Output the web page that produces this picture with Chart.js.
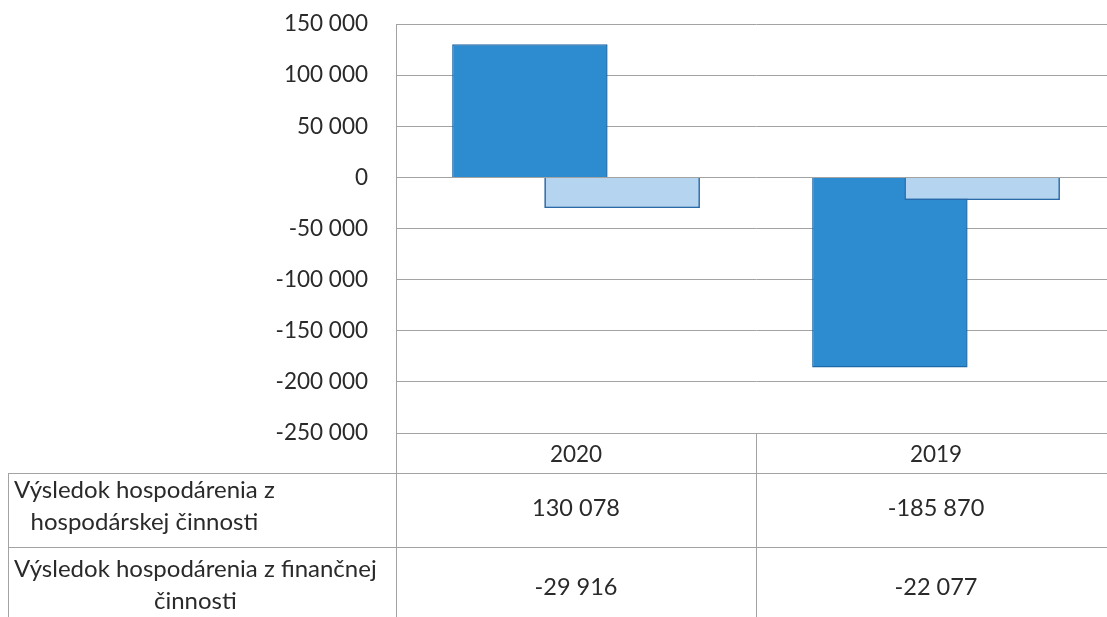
<!DOCTYPE html>
<html>
<head>
<meta charset="utf-8">
<script src="https://cdn.jsdelivr.net/npm/chart.js@4"></script>
<style>
  html, body { margin: 0; padding: 0; background: #fff; overflow: hidden; }
  #wrap { width: 1116px; height: 617px; }
</style>
</head>
<body>
<div id="wrap"><canvas id="c" width="1116" height="617"></canvas></div>
<script>
const categories = ['2020', '2019'];
const seriesNames = [
  ['Výsledok hospodárenia z', 'hospodárskej činnosti'],
  ['Výsledok hospodárenia z finančnej', 'činnosti']
];
const hospodarska = [130078, -185870];
const financna = [-29916, -22077];
const yMin = -250000, yMax = 150000, yStep = 50000;

const FONT = 'Lato, "Open Sans", sans-serif';
const TEXT = '#2a2a2a';
const GRID = '#a3a3a3';

function fmt(v) {
  const s = Math.abs(Math.round(v)).toString().replace(/\B(?=(\d{3})+(?!\d))/g, ' ');
  return (v < 0 ? '-' : '') + s;
}

const tablePlugin = {
  id: 'dataTable',
  afterDatasetsDraw(chart) {
    // light series drawn over the dark one where they overlap
    chart.getDatasetMeta(1).controller.draw();
  },
  afterDraw(chart) {
    const ctx = chart.ctx;
    const x = chart.scales.x;
    const area = chart.chartArea;
    const catW = (x.right - x.left) / categories.length;
    const H = chart.height;
    const rowTop = [473, 547];
    const rowH = 74;
    const tableLeft = 8;
    ctx.save();
    ctx.strokeStyle = GRID;
    ctx.lineWidth = 1;
    ctx.beginPath();
    for (let i = 0; i <= categories.length; i++) {
      const px = Math.round(x.left + i * catW) + 0.5;
      ctx.moveTo(px, area.bottom); ctx.lineTo(px, H);
    }
    ctx.moveTo(tableLeft + 0.5, rowTop[0]); ctx.lineTo(tableLeft + 0.5, H);
    rowTop.forEach(t => { ctx.moveTo(tableLeft, t + 0.5); ctx.lineTo(x.right, t + 0.5); });
    ctx.stroke();

    ctx.fillStyle = TEXT;
    ctx.textBaseline = 'middle';
    ctx.textAlign = 'center';
    const rows = [hospodarska, financna];
    const lineH = 32;
    rows.forEach((vals, r) => {
      const cy = rowTop[r] + rowH / 2 - (r === 0 ? 4 : -1);
      ctx.font = '24px ' + FONT;
      const lines = seriesNames[r];
      const w = Math.max(...lines.map(l => ctx.measureText(l).width));
      const bx = 14 + w / 2;
      lines.forEach((l, k) => {
        ctx.fillText(l, bx, cy + (k - (lines.length - 1) / 2) * lineH);
      });
      ctx.font = '23.5px ' + FONT;
      vals.forEach((v, i) => {
        ctx.fillText(fmt(v), x.getPixelForValue(i), cy + 2);
      });
    });
    ctx.restore();
  }
};

new Chart(document.getElementById('c'), {
  type: 'bar',
  data: {
    labels: categories,
    datasets: [
      {
        label: seriesNames[0].join(' '),
        data: hospodarska,
        backgroundColor: '#2d8bd0',
        borderColor: '#1d68a6',
        borderWidth: 1.5,
        categoryPercentage: 0.5125,
        barPercentage: 1.685
      },
      {
        label: seriesNames[1].join(' '),
        data: financna,
        backgroundColor: '#b4d4f0',
        borderColor: '#2a6aa8',
        borderWidth: 1.5,
        categoryPercentage: 0.5125,
        barPercentage: 1.685
      }
    ]
  },
  options: {
    responsive: false,
    devicePixelRatio: 1,
    animation: false,
    layout: { padding: { top: 24, left: 0, right: 0, bottom: 0 } },
    plugins: { legend: { display: false }, tooltip: { enabled: false } },
    scales: {
      x: {
        grid: { display: false, drawTicks: false },
        border: { display: false },
        ticks: { color: TEXT, font: { family: FONT, size: 22.5 }, padding: 8 },
        afterFit(s) { s.height = 184; }
      },
      y: {
        min: yMin, max: yMax,
        grid: { color: GRID, lineWidth: 1, drawTicks: true, tickLength: 28, tickColor: 'rgba(0,0,0,0)' },
        border: { display: true, color: GRID, width: 1 },
        ticks: {
          stepSize: yStep,
          color: TEXT,
          font: { family: FONT, size: 22.5 },
          padding: 0,
          callback: v => fmt(v)
        },
        afterFit(s) { s.width = 396; }
      }
    }
  },
  plugins: [tablePlugin]
});
</script>
</body>
</html>
